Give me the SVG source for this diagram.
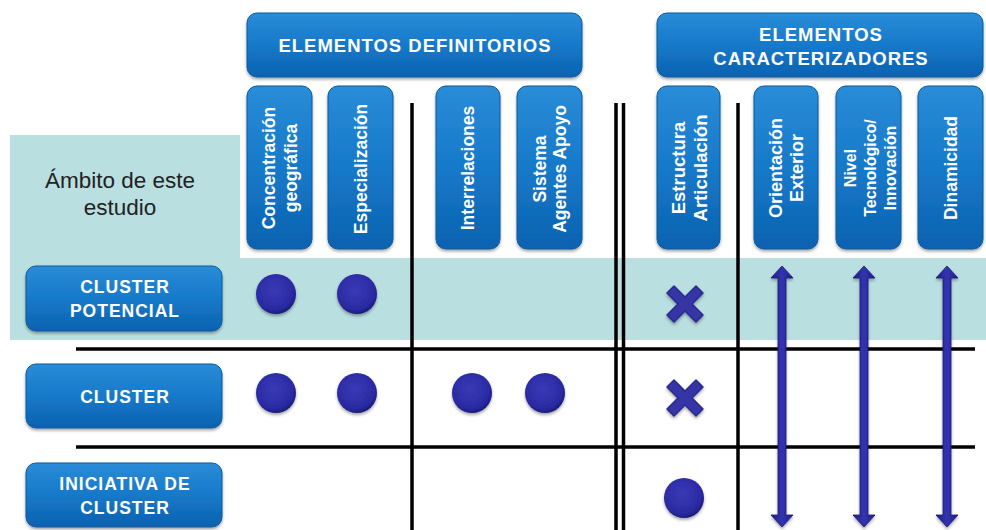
<svg xmlns="http://www.w3.org/2000/svg" width="986" height="530" viewBox="0 0 986 530">
<defs>
  <linearGradient id="boxg" x1="0" y1="0" x2="0" y2="1">
    <stop offset="0" stop-color="#2a8cd8"/>
    <stop offset="0.5" stop-color="#1679c9"/>
    <stop offset="1" stop-color="#0c62b0"/>
  </linearGradient>
  <radialGradient id="dotg" cx="0.45" cy="0.4" r="0.6">
    <stop offset="0" stop-color="#3a3ab8"/>
    <stop offset="0.8" stop-color="#2a2aa2"/>
    <stop offset="1" stop-color="#1c1c80"/>
  </radialGradient>
  <linearGradient id="arrg" x1="0" y1="0" x2="1" y2="0">
    <stop offset="0" stop-color="#1e1e86"/>
    <stop offset="0.5" stop-color="#3434b0"/>
    <stop offset="1" stop-color="#1e1e86"/>
  </linearGradient>
  <filter id="sh" x="-10%" y="-10%" width="120%" height="130%">
    <feDropShadow dx="0" dy="2" stdDeviation="1.5" flood-color="#000" flood-opacity="0.35"/>
  </filter>
  <g id="cross">
    <path d="M-11,-18 L0,-7 L11,-18 L18,-11 L7,0 L18,11 L11,18 L0,7 L-11,18 L-18,11 L-7,0 L-18,-11 Z" stroke-linejoin="round"/>
  </g>
</defs>
<style>
  .box { fill: url(#boxg); stroke: #0b5aa0; stroke-width: 1; filter: url(#sh); }
  .ht { font-family: "Liberation Sans", Arial, sans-serif; font-weight: bold; font-size: 18.5px; fill: #fff; text-anchor: middle; letter-spacing: 1px; }
  .vt { font-family: "Liberation Sans", Arial, sans-serif; font-weight: bold; font-size: 17.5px; fill: #fff; text-anchor: middle; dominant-baseline: central; }
  .rt { font-family: "Liberation Sans", Arial, sans-serif; font-weight: bold; font-size: 17.5px; fill: #fff; text-anchor: middle; letter-spacing: 1px; dominant-baseline: central; }
  .grid { stroke: #000; stroke-width: 3.5; fill: none; }
  .dot { fill: url(#dotg); filter: url(#sh); }
  .x { fill: #3535a6; stroke: #2a2a90; stroke-width: 1.5; filter: url(#sh); }
  .arr { fill: url(#arrg); stroke: #1a1a78; stroke-width: 0.8; filter: url(#sh); }
</style>
<rect width="986" height="530" fill="#fff"/>
<!-- scope area -->
<path id="scope" d="M10,135 H240 V258 H986 V340 H10 Z" fill="#b9dfe0"/>
<text x="120" y="188" font-family="Liberation Sans, Arial, sans-serif" font-size="22.5" fill="#222" text-anchor="middle">Ámbito de este</text>
<text x="120" y="215" font-family="Liberation Sans, Arial, sans-serif" font-size="22.5" fill="#222" text-anchor="middle">estudio</text>

<!-- grid lines -->
<g id="grid" class="grid">
  <line x1="76" y1="349" x2="975" y2="349"/>
  <line x1="76" y1="447" x2="975" y2="447"/>
  <line x1="412" y1="103" x2="412" y2="530"/>
  <line x1="616" y1="103" x2="616" y2="530"/>
  <line x1="623.5" y1="103" x2="623.5" y2="530"/>
  <line x1="738" y1="103" x2="738" y2="530"/>
</g>

<!-- headers -->
<g id="hdr-def">
  <rect class="box" x="247" y="13" width="335" height="64" rx="10"/>
  <text class="ht" x="415" y="52">ELEMENTOS DEFINITORIOS</text>
</g>
<g id="hdr-car">
  <rect class="box" x="657" y="13" width="326" height="64" rx="10"/>
  <text class="ht" x="821" y="41">ELEMENTOS</text>
  <text class="ht" x="821" y="65">CARACTERIZADORES</text>
</g>

<!-- columns -->
<g id="col-concentracion">
  <rect class="box" x="247" y="86" width="65" height="163" rx="10"/>
  <text class="vt" transform="translate(269,168) rotate(-90)">Concentración</text>
  <text class="vt" transform="translate(291,168) rotate(-90)">geográfica</text>
</g>
<g id="col-especializacion">
  <rect class="box" x="328" y="86" width="65" height="163" rx="10"/>
  <text class="vt" transform="translate(361,169) rotate(-90)">Especialización</text>
</g>
<g id="col-interrelaciones">
  <rect class="box" x="436" y="86" width="64" height="163" rx="10"/>
  <text class="vt" transform="translate(468,168) rotate(-90)">Interrelaciones</text>
</g>
<g id="col-sistema">
  <rect class="box" x="517" y="86" width="65" height="163" rx="10"/>
  <text class="vt" transform="translate(540,169) rotate(-90)">Sistema</text>
  <text class="vt" transform="translate(560,169) rotate(-90)">Agentes Apoyo</text>
</g>
<g id="col-estructura">
  <rect class="box" x="657" y="86" width="63" height="163" rx="10"/>
  <text class="vt" style="font-size:18.5px" transform="translate(678,168) rotate(-90)">Estructura</text>
  <text class="vt" style="font-size:18.5px" transform="translate(700,168) rotate(-90)">Articulación</text>
</g>
<g id="col-orientacion">
  <rect class="box" x="754" y="86" width="64" height="163" rx="10"/>
  <text class="vt" style="font-size:18px" transform="translate(776,168) rotate(-90)">Orientación</text>
  <text class="vt" style="font-size:18px" transform="translate(797,168) rotate(-90)">Exterior</text>
</g>
<g id="col-nivel">
  <rect class="box" x="836" y="86" width="65" height="163" rx="10"/>
  <text class="vt" style="font-size:16px" transform="translate(850,168) rotate(-90)">Nivel</text>
  <text class="vt" style="font-size:16px" transform="translate(870,168) rotate(-90)">Tecnológico/</text>
  <text class="vt" style="font-size:16px" transform="translate(890,168) rotate(-90)">Innovación</text>
</g>
<g id="col-dinamicidad">
  <rect class="box" x="918" y="86" width="65" height="163" rx="10"/>
  <text class="vt" transform="translate(951,168) rotate(-90)">Dinamicidad</text>
</g>

<!-- rows -->
<g id="row-potencial">
  <rect class="box" x="26" y="266" width="196" height="65" rx="10"/>
  <text class="rt" x="125" y="287">CLUSTER</text>
  <text class="rt" x="125" y="311">POTENCIAL</text>
</g>
<g id="row-cluster">
  <rect class="box" x="26" y="364" width="196" height="64" rx="10"/>
  <text class="rt" x="125" y="397">CLUSTER</text>
</g>
<g id="row-iniciativa">
  <rect class="box" x="26" y="463" width="196" height="64" rx="10"/>
  <text class="rt" x="125" y="484">INICIATIVA DE</text>
  <text class="rt" x="125" y="508">CLUSTER</text>
</g>

<!-- markers -->
<g id="marks">
  <circle class="dot" cx="276" cy="294" r="20"/>
  <circle class="dot" cx="357" cy="294" r="20"/>
  <circle class="dot" cx="276" cy="393" r="20"/>
  <circle class="dot" cx="357" cy="393" r="20"/>
  <circle class="dot" cx="472" cy="393" r="20"/>
  <circle class="dot" cx="545" cy="393" r="20"/>
  <circle class="dot" cx="684" cy="498" r="20"/>
  <use href="#cross" class="x" x="685" y="304"/>
  <use href="#cross" class="x" x="685" y="398"/>
</g>

<!-- arrows -->
<g id="connectors">
  <path class="arr" d="M782,266 L793,278 L786,278 L786,515 L793,515 L782,527 L771,515 L778,515 L778,278 L771,278 Z"/>
  <path class="arr" d="M864,266 L875,278 L868,278 L868,515 L875,515 L864,527 L853,515 L860,515 L860,278 L853,278 Z"/>
  <path class="arr" d="M947,266 L958,278 L951,278 L951,515 L958,515 L947,527 L936,515 L943,515 L943,278 L936,278 Z"/>
</g>
</svg>
